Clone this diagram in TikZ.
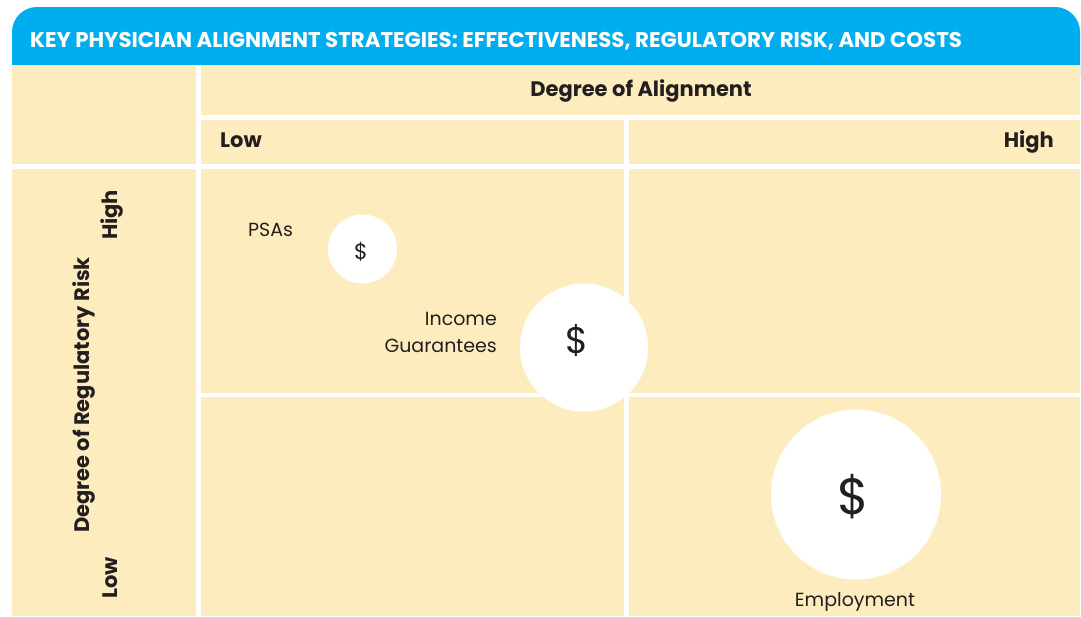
\documentclass[tikz,border=0pt]{standalone}
\usepackage{fontspec}
\setmainfont{Poppins}
\usepackage{xcolor}
\definecolor{headblue}{HTML}{00AEEF}
\definecolor{cream}{HTML}{FDEDBE}
\definecolor{ink}{HTML}{231F20}
\newcommand{\pSize}[1]{\fontsize{#1}{#1}\selectfont}

\begin{document}
\begin{tikzpicture}[x=1pt,y=-1pt,
  head/.style={anchor=base west, inner sep=0pt, text=white, font=\pSize{21.3}\bfseries},
  axis/.style={anchor=base, inner sep=0pt, text=ink, font=\pSize{21}\bfseries},
  tag/.style={anchor=base, inner sep=0pt, text=ink, font=\pSize{19}},
  coin/.style={circle, fill=white, inner sep=0pt},
  cost/.style={inner sep=0pt, text=ink},
  rule/.style={white, line width=4.5}]
\useasboundingbox (0,0) rectangle (1081,616);
% banner and panel
\fill[headblue, rounded corners=25] (12,7) rectangle (1080,100);
\fill[cream] (12,65) rectangle (1080,616);
\node[head] (title) at (30,47) {KEY PHYSICIAN ALIGNMENT STRATEGIES: EFFECTIVENESS, REGULATORY RISK, AND COSTS};
% grid
\draw[rule] (198.5,65) -- (198.5,616);
\draw[rule] (198.5,117.5) -- (1080,117.5);
\draw[rule] (12,166.5) -- (1080,166.5);
\draw[rule] (626.5,117.5) -- (626.5,616);
\draw[rule] (198.5,395) -- (1080,395);
% axis labels
\node[axis] (align) at (641,96) {Degree of Alignment};
\node[axis, anchor=base west] (alow) at (220,147) {Low};
\node[axis, anchor=base east] (ahigh) at (1054,147) {High};
\node[axis, rotate=90] (risk) at (89,395) {Degree of Regulatory Risk};
\node[axis, rotate=90] (rhigh) at (117,215) {High};
\node[axis, rotate=90] (rlow) at (117,578) {Low};
% strategies, circle size for cost
\node[coin, minimum size=69] (psa) at (362.5,249) {};
\node[coin, minimum size=128] (income) at (584,347.5) {};
\node[coin, minimum size=170] (employ) at (856,494.5) {};
\node[cost, font=\pSize{22}] (psacost) at (361,252) {\$};
\node[cost, font=\pSize{37}] (inccost) at (577,340.5) {\$};
\node[cost, font=\pSize{51}] (empcost) at (853,497) {\$};
\node[tag, anchor=base west] (psalbl) at (248,236) {PSAs};
\node[tag, anchor=base east] (inclbl) at (497,325) {Income};
\node[tag, anchor=base east] (guarlbl) at (497,352) {Guarantees};
\node[tag] (emplbl) at (855,606) {Employment};
\end{tikzpicture}
\end{document}
